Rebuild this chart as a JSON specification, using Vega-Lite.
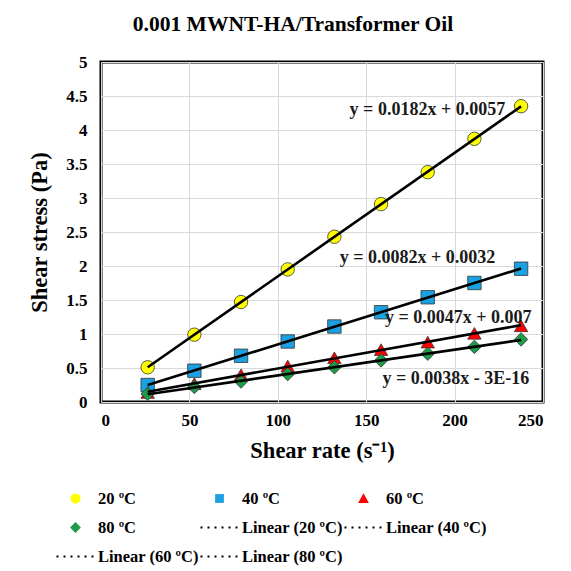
{
  "$schema": "https://vega.github.io/schema/vega-lite/v6.json",
  "width": 442,
  "height": 340,
  "autosize": {"type": "none"},
  "padding": {"left": 101, "top": 62, "right": 28, "bottom": 169},
  "background": "white",
  "title": {"text": "0.001 MWNT-HA/Transformer Oil", "font": "Liberation Serif", "fontSize": 21.5, "fontWeight": "bold", "color": "black", "anchor": "middle", "dx": -29, "offset": 18},
  "config": {
    "view": {"stroke": "black", "strokeWidth": 3},
    "axis": {"grid": true, "gridColor": "#d9d9d9", "gridWidth": 1, "domain": false, "ticks": false, "labelFont": "Liberation Serif", "labelFontSize": 17, "labelFontWeight": "bold", "labelColor": "black", "titleFont": "Liberation Serif", "titleFontSize": 22.5, "titleFontWeight": "bold", "titleColor": "black"}
  },
  "data": {"values": [
    {"series": "20 ºC", "rate": 26.4, "stress": 0.51},
    {"series": "20 ºC", "rate": 52.8, "stress": 0.99},
    {"series": "20 ºC", "rate": 79.2, "stress": 1.47},
    {"series": "20 ºC", "rate": 105.6, "stress": 1.95},
    {"series": "20 ºC", "rate": 132, "stress": 2.43},
    {"series": "20 ºC", "rate": 158.4, "stress": 2.91},
    {"series": "20 ºC", "rate": 184.8, "stress": 3.38},
    {"series": "20 ºC", "rate": 211.2, "stress": 3.87},
    {"series": "20 ºC", "rate": 237.6, "stress": 4.35},
    {"series": "40 ºC", "rate": 26.4, "stress": 0.25},
    {"series": "40 ºC", "rate": 52.8, "stress": 0.46},
    {"series": "40 ºC", "rate": 79.2, "stress": 0.68},
    {"series": "40 ºC", "rate": 105.6, "stress": 0.89},
    {"series": "40 ºC", "rate": 132, "stress": 1.11},
    {"series": "40 ºC", "rate": 158.4, "stress": 1.32},
    {"series": "40 ºC", "rate": 184.8, "stress": 1.54},
    {"series": "40 ºC", "rate": 211.2, "stress": 1.75},
    {"series": "40 ºC", "rate": 237.6, "stress": 1.96},
    {"series": "60 ºC", "rate": 26.4, "stress": 0.14},
    {"series": "60 ºC", "rate": 52.8, "stress": 0.27},
    {"series": "60 ºC", "rate": 79.2, "stress": 0.40},
    {"series": "60 ºC", "rate": 105.6, "stress": 0.53},
    {"series": "60 ºC", "rate": 132, "stress": 0.65},
    {"series": "60 ºC", "rate": 158.4, "stress": 0.77},
    {"series": "60 ºC", "rate": 184.8, "stress": 0.88},
    {"series": "60 ºC", "rate": 211.2, "stress": 1.01},
    {"series": "60 ºC", "rate": 237.6, "stress": 1.12},
    {"series": "80 ºC", "rate": 26.4, "stress": 0.12},
    {"series": "80 ºC", "rate": 52.8, "stress": 0.22},
    {"series": "80 ºC", "rate": 79.2, "stress": 0.30},
    {"series": "80 ºC", "rate": 105.6, "stress": 0.41},
    {"series": "80 ºC", "rate": 132, "stress": 0.51},
    {"series": "80 ºC", "rate": 158.4, "stress": 0.61},
    {"series": "80 ºC", "rate": 184.8, "stress": 0.71},
    {"series": "80 ºC", "rate": 211.2, "stress": 0.81},
    {"series": "80 ºC", "rate": 237.6, "stress": 0.92}
  ]},
  "encoding": {
    "x": {"field": "rate", "type": "quantitative", "scale": {"domain": [0, 250], "nice": false}, "axis": {"values": [0, 50, 100, 150, 200, 250], "title": "Shear rate (s⁻¹)", "labelPadding": 10, "titlePadding": 11}},
    "y": {"field": "stress", "type": "quantitative", "scale": {"domain": [0, 5], "nice": false}, "axis": {"values": [0, 0.5, 1, 1.5, 2, 2.5, 3, 3.5, 4, 4.5, 5], "format": ".1~f", "title": "Shear stress (Pa)", "labelPadding": 14, "titlePadding": 14}}
  },
  "layer": [
    {
      "mark": {"type": "point", "filled": true, "opacity": 1, "stroke": "#333333", "strokeWidth": 0.8, "size": 180},
      "encoding": {
        "shape": {"field": "series", "type": "nominal", "scale": {"domain": ["20 ºC", "40 ºC", "60 ºC", "80 ºC"], "range": ["circle", "square", "triangle-up", "diamond"]}, "legend": null},
        "fill": {"field": "series", "type": "nominal", "scale": {"domain": ["20 ºC", "40 ºC", "60 ºC", "80 ºC"], "range": ["#ffff00", "#1ba1e2", "#ff0000", "#1e9b48"]}, "legend": null}
      }
    },
    {
      "mark": {"type": "point", "filled": true, "opacity": 0, "size": 10},
      "encoding": {
        "shape": {"field": "series", "type": "nominal",
          "scale": {"domain": ["20 ºC", "40 ºC", "60 ºC", "80 ºC", "Linear (20 ºC)", "Linear (40 ºC)", "Linear (60 ºC)", "Linear (80 ºC)"],
            "range": [
              "M0.25,0A0.25,0.25,0,1,1,-0.25,0A0.25,0.25,0,1,1,0.25,0Z",
              "M-0.22,-0.22H0.22V0.22H-0.22Z",
              "M0,-0.26L0.27,0.22L-0.27,0.22Z",
              "M0,-0.27L0.27,0L0,0.27L-0.27,0Z",
              "M-0.95,-0.05h0.1v0.1h-0.1zM-0.6,-0.05h0.1v0.1h-0.1zM-0.25,-0.05h0.1v0.1h-0.1zM0.1,-0.05h0.1v0.1h-0.1zM0.45,-0.05h0.1v0.1h-0.1zM0.8,-0.05h0.1v0.1h-0.1z",
              "M-0.95,-0.05h0.1v0.1h-0.1zM-0.6,-0.05h0.1v0.1h-0.1zM-0.25,-0.05h0.1v0.1h-0.1zM0.1,-0.05h0.1v0.1h-0.1zM0.45,-0.05h0.1v0.1h-0.1zM0.8,-0.05h0.1v0.1h-0.1z",
              "M-0.95,-0.05h0.1v0.1h-0.1zM-0.6,-0.05h0.1v0.1h-0.1zM-0.25,-0.05h0.1v0.1h-0.1zM0.1,-0.05h0.1v0.1h-0.1zM0.45,-0.05h0.1v0.1h-0.1zM0.8,-0.05h0.1v0.1h-0.1z",
              "M-0.95,-0.05h0.1v0.1h-0.1zM-0.6,-0.05h0.1v0.1h-0.1zM-0.25,-0.05h0.1v0.1h-0.1zM0.1,-0.05h0.1v0.1h-0.1zM0.45,-0.05h0.1v0.1h-0.1zM0.8,-0.05h0.1v0.1h-0.1z"
            ]},
          "legend": {"title": null, "orient": "none", "legendX": -46, "legendY": 416, "columns": 3, "direction": "horizontal", "symbolSize": 1600, "symbolOpacity": 1, "symbolStrokeColor": "#222222", "symbolStrokeWidth": 0.6, "labelFont": "Liberation Serif", "labelFontSize": 16.5, "labelFontWeight": "bold", "labelColor": "black", "labelOffset": 2, "columnPadding": -5, "rowPadding": -11, "labelLimit": 200}},
        "fill": {"field": "series", "type": "nominal",
          "scale": {"domain": ["20 ºC", "40 ºC", "60 ºC", "80 ºC", "Linear (20 ºC)", "Linear (40 ºC)", "Linear (60 ºC)", "Linear (80 ºC)"],
            "range": ["#ffff00", "#1ba1e2", "#ff0000", "#1e9b48", "#000000", "#000000", "#000000", "#000000"]},
          "legend": {"title": null}}
      }
    },
    {
      "transform": [{"regression": "stress", "on": "rate", "groupby": ["series"], "method": "linear"}],
      "mark": {"type": "line", "stroke": "black", "strokeWidth": 2.6},
      "encoding": {"detail": {"field": "series", "type": "nominal"}}
    },
    {
      "data": {"values": [
        {"rate": 184.6, "stress": 4.3, "label": "y = 0.0182x + 0.0057"},
        {"rate": 179, "stress": 2.12, "label": "y = 0.0082x + 0.0032"},
        {"rate": 202, "stress": 1.24, "label": "y = 0.0047x + 0.007"},
        {"rate": 200.7, "stress": 0.34, "label": "y = 0.0038x - 3E-16"}
      ]},
      "mark": {"type": "text", "font": "Liberation Serif", "fontSize": 18, "fontWeight": "bold", "color": "#1a1a1a", "align": "center", "baseline": "middle"},
      "encoding": {"text": {"field": "label", "type": "nominal"}}
    }
  ],
  "resolve": {"scale": {"shape": "independent", "fill": "independent"}}
}
